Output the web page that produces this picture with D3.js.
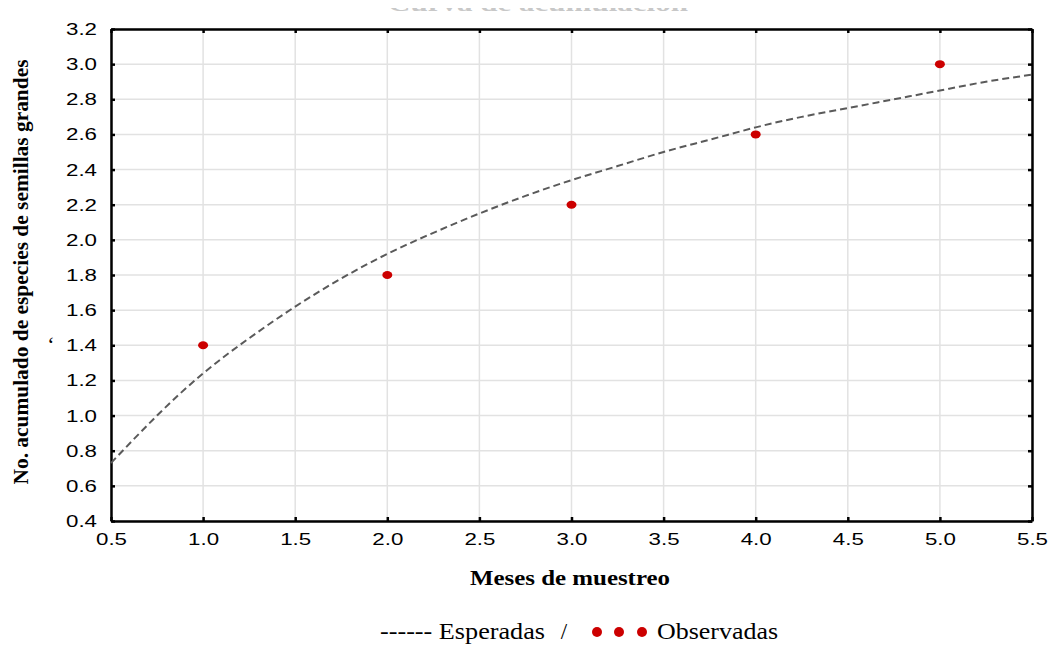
<!DOCTYPE html>
<html>
<head>
<meta charset="utf-8">
<script src="https://cdn.jsdelivr.net/npm/d3@7"></script>
<style>
    body { margin: 0; background: #fff; }
    .tick-label { font-family: "Liberation Sans", Arial, sans-serif; font-size: 17px; fill: #000; }
    .serif { font-family: "Liberation Serif", "Times New Roman", serif; fill: #000; }
</style>
</head>
<body>
<svg id="chart" width="1053" height="650"></svg>
<script>
'use strict';

// Months sampled and observed accumulated species.
var meses = [1, 2, 3, 4, 5];
var observadas = [1.4, 1.8, 2.2, 2.6, 3.0];

// Expected curve, every quarter month.
var mesesEsperadas = [0.5, 0.75, 1.0, 1.25, 1.5, 1.75, 2.0, 2.25, 2.5, 2.75, 3.0,
    3.25, 3.5, 3.75, 4.0, 4.25, 4.5, 4.75, 5.0, 5.25, 5.5];
var esperadas = [0.73, 1.0, 1.24, 1.44, 1.62, 1.78, 1.92, 2.04, 2.15, 2.25, 2.34,
    2.42, 2.5, 2.57, 2.64, 2.7, 2.75, 2.8, 2.85, 2.9, 2.94];

var xTicks = [0.5, 1.0, 1.5, 2.0, 2.5, 3.0, 3.5, 4.0, 4.5, 5.0, 5.5];
var yTicks = [0.4, 0.6, 0.8, 1.0, 1.2, 1.4, 1.6, 1.8, 2.0, 2.2, 2.4, 2.6, 2.8, 3.0, 3.2];

var margin = {top: 29, right: 21, bottom: 129, left: 111};
var width = 1053 - margin.left - margin.right;
var height = 650 - margin.top - margin.bottom;

var svg = d3.select('#chart');
var g = svg.append('g')
    .attr('transform', 'translate(' + margin.left + ',' + margin.top + ')');

var xScale = d3.scaleLinear().domain([0.5, 5.5]).range([0, width]);
var yScale = d3.scaleLinear().domain([0.4, 3.2]).range([height, 0]);

// Grid lines.
g.selectAll('line.gx')
    .data(xTicks)
    .enter()
    .append('line')
    .attr('x1', function(d) { return xScale(d); })
    .attr('x2', function(d) { return xScale(d); })
    .attr('y1', 0)
    .attr('y2', height)
    .attr('stroke', '#e2e2e2')
    .attr('stroke-width', 1.5);
g.selectAll('line.gy')
    .data(yTicks)
    .enter()
    .append('line')
    .attr('x1', 0)
    .attr('x2', width)
    .attr('y1', function(d) { return yScale(d); })
    .attr('y2', function(d) { return yScale(d); })
    .attr('stroke', '#e2e2e2')
    .attr('stroke-width', 1.5);

// Axes, ticks pointing inward on all four sides.
var fmt = d3.format('.1f');
var bottomAxis = g.append('g')
    .attr('transform', 'translate(0,' + height + ')')
    .call(d3.axisBottom(xScale).tickValues(xTicks).tickFormat(fmt).tickSizeInner(-4).tickSizeOuter(0).tickPadding(12));
var leftAxis = g.append('g')
    .call(d3.axisLeft(yScale).tickValues(yTicks).tickFormat(fmt).tickSizeInner(-4).tickSizeOuter(0).tickPadding(14));
var topAxis = g.append('g')
    .call(d3.axisTop(xScale).tickValues(xTicks).tickFormat('').tickSizeInner(-4).tickSizeOuter(0));
var rightAxis = g.append('g')
    .attr('transform', 'translate(' + width + ',0)')
    .call(d3.axisRight(yScale).tickValues(yTicks).tickFormat('').tickSizeInner(-4).tickSizeOuter(0));

[bottomAxis, leftAxis, topAxis, rightAxis].forEach(function(ax) {
    ax.select('.domain').attr('stroke', '#000').attr('stroke-width', 2.5);
    ax.selectAll('.tick line').attr('stroke', '#000').attr('stroke-width', 2.5);
    ax.selectAll('.tick text')
        .attr('class', 'tick-label')
        .attr('font-family', null)
        .attr('font-size', null)
        .attr('textLength', 31)
        .attr('lengthAdjust', 'spacingAndGlyphs');
});
bottomAxis.selectAll('.tick text').attr('dy', '0.71em');

// Expected curve.
var line = d3.line()
    .x(function(d, i) { return xScale(mesesEsperadas[i]); })
    .y(function(d) { return yScale(d); })
    .curve(d3.curveNatural);
g.append('path')
    .datum(esperadas)
    .attr('d', line)
    .attr('fill', 'none')
    .attr('stroke', '#5a5a5a')
    .attr('stroke-width', 2)
    .attr('stroke-dasharray', '7,4');

// Observed points.
g.selectAll('ellipse.obs')
    .data(observadas)
    .enter()
    .append('ellipse')
    .attr('cx', function(d, i) { return xScale(meses[i]); })
    .attr('cy', function(d) { return yScale(d); })
    .attr('rx', 5)
    .attr('ry', 4)
    .attr('fill', '#cc0000');

// Title, cut off at the top edge as in the original.
svg.append('clipPath')
    .attr('id', 'title-clip')
    .append('rect')
    .attr('x', 0)
    .attr('y', 8)
    .attr('width', 1053)
    .attr('height', 6);
svg.append('text')
    .attr('class', 'serif')
    .attr('clip-path', 'url(#title-clip)')
    .attr('x', 388)
    .attr('y', 11)
    .attr('font-size', 22)
    .attr('font-weight', 'bold')
    .attr('textLength', 300)
    .attr('lengthAdjust', 'spacingAndGlyphs')
    .style('fill', '#c8c8c8')
    .text('Curva de acumulación');

// Axis titles.
svg.append('text')
    .attr('class', 'serif')
    .attr('transform', 'translate(28,272) rotate(-90)')
    .attr('text-anchor', 'middle')
    .attr('font-size', 21)
    .attr('font-weight', 'bold')
    .attr('textLength', 425)
    .attr('lengthAdjust', 'spacingAndGlyphs')
    .text('No. acumulado de especies de semillas grandes');
svg.append('text')
    .attr('class', 'serif')
    .attr('x', 51)
    .attr('y', 352)
    .attr('text-anchor', 'middle')
    .attr('font-size', 22)
    .text('\u2018');
svg.append('text')
    .attr('class', 'serif')
    .attr('x', 470)
    .attr('y', 585)
    .attr('font-size', 22)
    .attr('font-weight', 'bold')
    .attr('textLength', 200)
    .attr('lengthAdjust', 'spacingAndGlyphs')
    .text('Meses de muestreo');

// Legend.
var legend = svg.append('g');
legend.append('text')
    .attr('class', 'serif')
    .attr('x', 380)
    .attr('y', 639)
    .attr('font-size', 23)
    .attr('textLength', 165)
    .attr('lengthAdjust', 'spacingAndGlyphs')
    .text('------ Esperadas');
legend.append('text')
    .attr('class', 'serif')
    .attr('x', 564)
    .attr('y', 639)
    .attr('text-anchor', 'middle')
    .attr('font-size', 23)
    .text('/');
legend.selectAll('circle')
    .data([597, 619, 642])
    .enter()
    .append('circle')
    .attr('cx', function(d) { return d; })
    .attr('cy', 632)
    .attr('r', 5)
    .attr('fill', '#cc0000');
legend.append('text')
    .attr('class', 'serif')
    .attr('x', 657)
    .attr('y', 639)
    .attr('font-size', 23)
    .attr('textLength', 121)
    .attr('lengthAdjust', 'spacingAndGlyphs')
    .text('Observadas');
</script>
</body>
</html>
